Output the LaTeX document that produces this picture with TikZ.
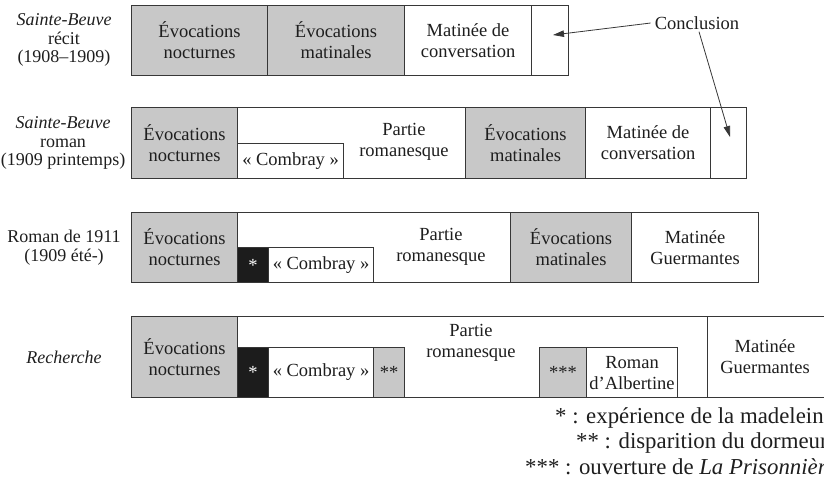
\documentclass[tikz,border=0pt]{standalone}
\usepackage{fontspec}
\setmainfont{Liberation Serif}
\usetikzlibrary{arrows.meta,calc}
\definecolor{segray}{RGB}{200,200,200}
\definecolor{segline}{RGB}{55,55,55}
\definecolor{segblack}{RGB}{28,28,28}
\definecolor{txt}{RGB}{30,30,30}
\begin{document}
\begin{tikzpicture}[x=1pt,y=-1pt,
  every node/.style={text=txt, font=\fontsize{18.5}{21}\selectfont},
  seg/.style={draw=segline, line width=1.1pt, fill=white, anchor=north west,
    inner sep=0pt, align=center},
  dim/.style 2 args={minimum width=#1pt, minimum height=#2pt},
  grayseg/.style={seg, fill=segray},
  blackseg/.style={seg, fill=segblack, text=white},
  plain/.style={align=center, inner sep=0pt},
  side/.style={align=center, inner sep=0pt, font=\fontsize{18}{18.8}\selectfont},
  legend/.style={anchor=west, inner sep=0pt, font=\fontsize{22.8}{25}\selectfont},
  arr/.style={-{Triangle[length=11pt,width=6.5pt]}, line width=0.8pt, draw=segline}
]
\useasboundingbox (0,0) rectangle (824,491);

% ---------- Row 1 : Sainte-Beuve recit
\node[side] (l1) at (64,40) {\textit{Sainte-Beuve}\\récit\\(1908–1909)};
\node[grayseg, dim={136}{70}] (r1a) at (131,5) {Évocations\\nocturnes};
\node[grayseg, dim={137}{70}] (r1b) at (267,5) {Évocations\\matinales};
\node[seg, dim={127}{70}] (r1c) at (404,5) {Matinée de\\conversation};
\node[seg, dim={37}{70}] (r1d) at (531,5) {};

% ---------- Row 2 : Sainte-Beuve roman
\node[side] (l2) at (63,143) {\textit{Sainte-Beuve}\\roman\\(1909 printemps)};
\node[seg, dim={615}{71}] (r2) at (131,107) {};
\node[grayseg, dim={106}{71}] (r2a) at (131,107) {Évocations\\nocturnes};
\node[seg, dim={106}{35}] (r2comb) at (237,143) {« Combray »};
\node[plain] (r2part) at (404,142) {Partie\\romanesque};
\node[grayseg, dim={120}{71}] (r2b) at (465,107) {Évocations\\matinales};
\node[seg, dim={125}{71}] (r2c) at (585,107) {Matinée de\\conversation};
\node[seg, dim={36}{71}] (r2d) at (710,107) {};

% ---------- Row 3 : Roman de 1911
\node[side] (l3) at (64,248) {Roman de 1911\\(1909 été-)};
\node[seg, dim={627}{70}] (r3) at (131,212) {};
\node[grayseg, dim={106}{70}] (r3a) at (131,212) {Évocations\\nocturnes};
\node[blackseg, dim={31}{35}] (r3star) at (237,247) {*};
\node[seg, dim={105}{35}] (r3comb) at (268,247) {« Combray »};
\node[plain] (r3part) at (441,247) {Partie\\romanesque};
\node[grayseg, dim={121}{70}] (r3b) at (510,212) {Évocations\\matinales};
\node[seg, dim={127}{70}] (r3c) at (631,212) {Matinée\\Guermantes};

% ---------- Row 4 : Recherche
\node[side] (l4) at (64,357) {\textit{Recherche}};
\node[seg, dim={700}{81}] (r4) at (131,316) {};
\node[grayseg, dim={106}{81}] (r4a) at (131,316) {Évocations\\nocturnes};
\node[blackseg, dim={31}{50}] (r4star) at (237,347) {*};
\node[seg, dim={105}{50}] (r4comb) at (268,347) {« Combray »};
\node[grayseg, dim={31}{50}] (r4dd) at (373,347) {**};
\node[plain] (r4part) at (471,343) {Partie\\romanesque};
\node[grayseg, dim={47}{50}] (r4ddd) at (539,347) {***};
\node[seg, dim={91}{50}] (r4alb) at (586,347) {Roman\\d’Albertine};
\node[seg, dim={124}{81}] (r4c) at (707,316) {};
\node[plain] (r4ctext) at (765,357) {Matinée\\Guermantes};

% ---------- Conclusion
\node[plain] (conc) at (697,23) {Conclusion};
\coordinate (tip1) at (553,35);
\coordinate (tip2) at (730,137);
\draw[arr] ([xshift=-4pt]conc.west) -- (tip1);
\draw[arr] ([xshift=2pt,yshift=-2pt]conc.south) -- (tip2);

% ---------- Legend
\node[legend] (leg1) at (555,418) {* : expérience de la madeleine};
\node[legend] (leg2) at (576,443) {** : disparition du dormeur};
\node[legend] (leg3) at (525,467) {*** : ouverture de \textit{La Prisonnière}};
\end{tikzpicture}
\end{document}
